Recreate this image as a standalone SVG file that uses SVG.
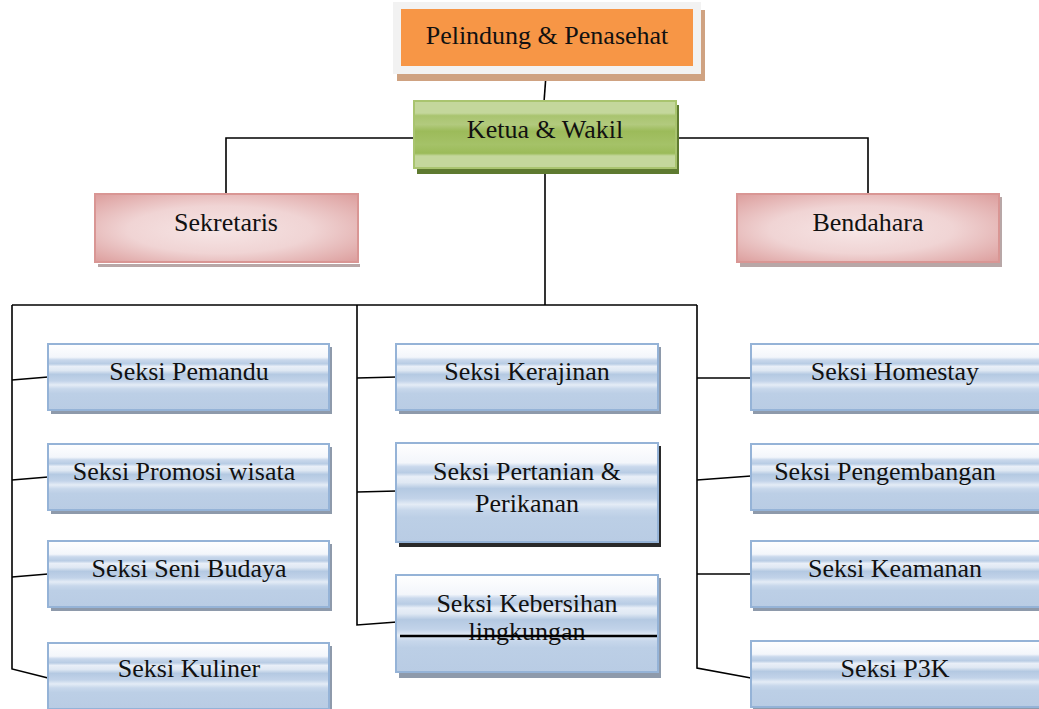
<svg xmlns="http://www.w3.org/2000/svg" width="1039" height="709" viewBox="0 0 1039 709">
<defs>
<linearGradient id="blue" x1="0" y1="0" x2="0" y2="1">
<stop offset="0" stop-color="#ffffff"/>
<stop offset="0.2" stop-color="#f3f6fb"/>
<stop offset="0.24" stop-color="#c9d8ec"/>
<stop offset="0.3" stop-color="#b8cce4"/>
<stop offset="0.34" stop-color="#e9eff8"/>
<stop offset="0.4" stop-color="#dfe8f3"/>
<stop offset="0.46" stop-color="#b4c9e2"/>
<stop offset="0.56" stop-color="#c2d3e9"/>
<stop offset="0.62" stop-color="#e4ecf6"/>
<stop offset="0.68" stop-color="#c7d7eb"/>
<stop offset="0.75" stop-color="#bccfe6"/>
<stop offset="1" stop-color="#b9cce4"/>
</linearGradient>
<linearGradient id="green" x1="0" y1="0" x2="0" y2="1">
<stop offset="0" stop-color="#c4d79c"/>
<stop offset="0.18" stop-color="#c4d79c"/>
<stop offset="0.22" stop-color="#a9c46f"/>
<stop offset="0.35" stop-color="#b2ca7e"/>
<stop offset="0.45" stop-color="#9cbb5a"/>
<stop offset="0.65" stop-color="#a5c268"/>
<stop offset="0.78" stop-color="#9bbb59"/>
<stop offset="0.82" stop-color="#c4d79c"/>
<stop offset="1" stop-color="#c4d79c"/>
</linearGradient>
<radialGradient id="pink" cx="0.5" cy="0.5" r="0.7" fx="0.45" fy="0.55">
<stop offset="0" stop-color="#f6e5e5"/>
<stop offset="0.5" stop-color="#f0d4d4"/>
<stop offset="1" stop-color="#dc9e9d"/>
</radialGradient>
<style>
.t{font-family:"Liberation Serif","Times New Roman",serif;font-size:26px;fill:#111;text-anchor:middle}
.c{fill:none;stroke:#000;stroke-width:1.6}
.b{fill:url(#blue);stroke:#95b3d7;stroke-width:2}
.bs{fill:#8e9aab}
.p{fill:url(#pink);stroke:#d99694;stroke-width:2}
.ps{fill:#b8a7a7}
</style>
</defs>

<g id="connectors">
<path class="c" d="M546,75 L544,102"/>
<path class="c" d="M414,138 H226 V194"/>
<path class="c" d="M676,138 H868 V194"/>
<path class="c" d="M545,168 V305"/>
<path class="c" d="M12,305 H697"/>
<path class="c" d="M12,305 V669 L48,678"/>
<path class="c" d="M12,380 L48,377"/>
<path class="c" d="M12,480 L48,477"/>
<path class="c" d="M12,577 L48,574"/>
<path class="c" d="M357,305 V625 L397,622"/>
<path class="c" d="M357,378 L397,377"/>
<path class="c" d="M357,492 L397,491"/>
<path class="c" d="M697,305 V668 L751,678"/>
<path class="c" d="M697,378 H751"/>
<path class="c" d="M697,480 L751,476"/>
<path class="c" d="M697,574 H751"/>
</g>

<g id="pelindung">
<rect x="397" y="10" width="308" height="71" fill="#cfa281"/>
<rect x="393" y="2" width="308" height="72" fill="#f2f2f2"/>
<rect x="401" y="9" width="292" height="57" fill="#f79646"/>
<text class="t" x="547" y="44">Pelindung &amp; Penasehat</text>
</g>

<g id="ketua">
<rect x="417" y="105" width="262" height="69" fill="#5e7a30"/>
<rect x="414" y="101" width="262" height="67" fill="url(#green)" stroke="#a9c46f" stroke-width="2"/>
<text class="t" x="545" y="138">Ketua &amp; Wakil</text>
</g>

<g id="sekretaris">
<rect x="98" y="264" width="262" height="3" class="ps"/>
<rect x="95" y="194" width="263" height="68" class="p"/>
<text class="t" x="226" y="231">Sekretaris</text>
</g>

<g id="bendahara">
<rect x="740" y="197" width="262" height="70" class="ps"/>
<rect x="737" y="194" width="262" height="68" class="p"/>
<text class="t" x="868" y="231">Bendahara</text>
</g>

<g id="seksi-pemandu">
<rect x="51" y="347" width="281" height="67" class="bs"/>
<rect x="48" y="344" width="281" height="66" class="b"/>
<text class="t" x="189" y="380">Seksi Pemandu</text>
</g>

<g id="seksi-promosi">
<rect x="51" y="447" width="281" height="67" class="bs"/>
<rect x="48" y="444" width="281" height="66" class="b"/>
<text class="t" x="184" y="480">Seksi Promosi wisata</text>
</g>

<g id="seksi-seni">
<rect x="51" y="544" width="281" height="67" class="bs"/>
<rect x="48" y="541" width="281" height="66" class="b"/>
<text class="t" x="189" y="577">Seksi Seni Budaya</text>
</g>

<g id="seksi-kuliner">
<rect x="51" y="646" width="281" height="67" class="bs"/>
<rect x="48" y="643" width="281" height="66" class="b"/>
<text class="t" x="189" y="677">Seksi Kuliner</text>
</g>

<g id="seksi-kerajinan">
<rect x="399" y="347" width="262" height="67" class="bs"/>
<rect x="396" y="344" width="262" height="66" class="b"/>
<text class="t" x="527" y="380">Seksi Kerajinan</text>
</g>

<g id="seksi-pertanian">
<rect x="399" y="446" width="262" height="101" fill="#2a2a2a"/>
<rect x="396" y="443" width="262" height="99" class="b"/>
<text class="t" x="527" y="480">Seksi Pertanian &amp;</text>
<text class="t" x="527" y="512">Perikanan</text>
</g>

<g id="seksi-kebersihan">
<rect x="399" y="578" width="262" height="100" class="bs"/>
<rect x="396" y="575" width="262" height="97" class="b"/>
<text class="t" x="527" y="612">Seksi Kebersihan</text>
<text class="t" x="527" y="640">lingkungan</text>
<line x1="400" y1="636" x2="657" y2="636" stroke="#000" stroke-width="2.5"/>
</g>

<g id="seksi-homestay">
<rect x="753" y="347" width="300" height="67" class="bs"/>
<rect x="751" y="344" width="300" height="66" class="b"/>
<text class="t" x="895" y="380">Seksi Homestay</text>
</g>

<g id="seksi-pengembangan">
<rect x="753" y="447" width="300" height="67" class="bs"/>
<rect x="751" y="444" width="300" height="66" class="b"/>
<text class="t" x="885" y="480">Seksi Pengembangan</text>
</g>

<g id="seksi-keamanan">
<rect x="753" y="544" width="300" height="67" class="bs"/>
<rect x="751" y="541" width="300" height="66" class="b"/>
<text class="t" x="895" y="577">Seksi Keamanan</text>
</g>

<g id="seksi-p3k">
<rect x="753" y="644" width="300" height="67" class="bs"/>
<rect x="751" y="641" width="300" height="66" class="b"/>
<text class="t" x="895" y="677">Seksi P3K</text>
</g>
</svg>
